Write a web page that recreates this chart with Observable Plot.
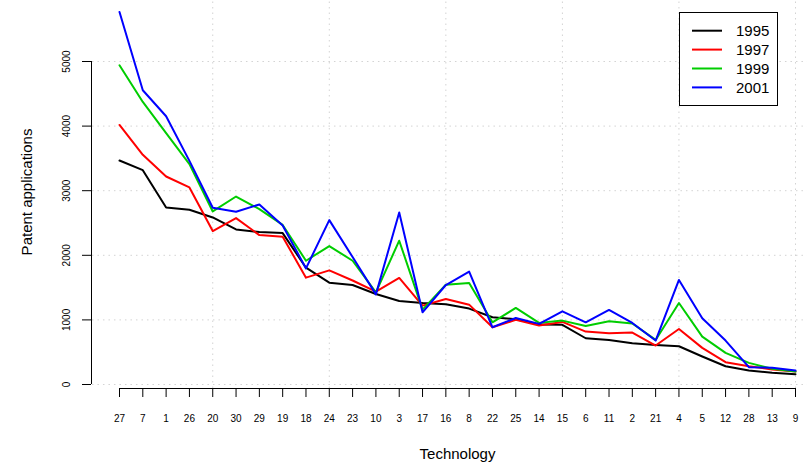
<!DOCTYPE html>
<html>
<head>
<meta charset="utf-8">
<script src="https://cdn.jsdelivr.net/npm/d3@7"></script>
<script src="https://cdn.jsdelivr.net/npm/@observablehq/plot@0.6"></script>
<style>
  html, body { margin: 0; padding: 0; background: #fff; }
  #chart { width: 807px; height: 464px; }
</style>
</head>
<body>
<div id="chart"></div>
<script>
const cats = ["27","7","1","26","20","30","29","19","18","24","23","10","3","17","16","8","22","25","14","15","6","11","2","21","4","5","12","28","13","9"];
const years = ["1995","1997","1999","2001"];
const colors = ["#000000","#FF0000","#00CD00","#0000FF"];
const v1995 = [3467,3318,2740,2705,2586,2400,2360,2344,1808,1576,1540,1401,1293,1262,1241,1175,1041,1010,927,923,716,690,639,613,592,433,283,216,181,159];
const v1997 = [4018,3555,3220,3050,2375,2576,2313,2288,1654,1767,1610,1437,1649,1221,1324,1236,886,1000,912,969,819,793,804,603,860,567,345,283,232,201];
const v1999 = [4941,4374,3890,3411,2679,2910,2715,2470,1916,2143,1916,1427,2226,1159,1546,1572,963,1185,954,989,905,978,945,690,1262,742,490,335,243,201];
const v2001 = [5765,4555,4153,3462,2736,2674,2787,2462,1797,2545,1973,1395,2664,1118,1540,1747,886,1030,938,1133,963,1154,953,680,1618,1025,680,268,258,216];
const yTicks = [0,1000,2000,3000,4000,5000];
const gridX = [4,9,14,19,24,29];

const series = [v1995, v1997, v1999, v2001];
const rows = [];
series.forEach((vals, k) => vals.forEach((v, i) => rows.push({i, cat: cats[i], year: years[k], value: v})));

const font = "'Liberation Sans', Arial, Helvetica, sans-serif";

const chart = Plot.plot({
  width: 807,
  height: 464,
  marginLeft: 119,
  marginRight: 12,
  marginTop: 61,
  marginBottom: 80,
  style: {fontFamily: font, background: "white", color: "black"},
  x: {domain: [0, cats.length - 1]},
  y: {domain: [0, 5000]},
  color: {domain: years, range: colors},
  marks: [
    Plot.ruleY(yTicks, {y: d => d, x1: -1.16, x2: 31, stroke: "#d3d3d3", strokeDasharray: "1.5,4"}),
    Plot.ruleX(gridX, {x: d => d, y1: -62, y2: 6200, stroke: "#d3d3d3", strokeDasharray: "1.5,4"}),
    Plot.line(rows, {x: "i", y: "value", z: "year", stroke: "year", strokeWidth: 2, strokeLinejoin: "round"}),
    Plot.ruleY([0], {x1: 0, x2: cats.length - 1, dy: 4, stroke: "black"}),
    Plot.axisX({ticks: d3.range(cats.length), tickFormat: i => cats[i], tickSize: 9, tickPadding: 17, dy: 4, fontSize: 10, label: null, stroke: "black"}),
    Plot.ruleX([0], {y1: 0, y2: 5000, dx: -28, stroke: "black"}),
    Plot.axisY({ticks: yTicks, tickSize: 9, tickFormat: () => "", dx: -28, label: null, stroke: "black"}),
    Plot.text(yTicks, {y: d => d, text: d => String(d), frameAnchor: "left", dx: -53, rotate: -90, fontSize: 10, lineAnchor: "middle", textAnchor: "middle", fill: "black"}),
    Plot.text(["Technology"], {text: d => d, frameAnchor: "bottom", dy: 69.5, lineAnchor: "middle", fontSize: 15, fill: "black"}),
    Plot.text(["Patent applications"], {text: d => d, frameAnchor: "left", dx: -92, dy: -31, rotate: -90, lineAnchor: "middle", textAnchor: "middle", fontSize: 15, fill: "black"})
  ]
});

document.getElementById("chart").appendChild(chart);

// Legend (top-right box)
const svg = d3.select(chart);
const lg = svg.append("g").attr("font-family", font).attr("font-size", 15).attr("text-anchor", "start");
lg.append("rect").attr("x", 679.5).attr("y", 12.5).attr("width", 98).attr("height", 93)
  .attr("fill", "white").attr("stroke", "black").attr("stroke-width", 1);
years.forEach((yr, k) => {
  const yy = 30.7 + k * 18.9;
  lg.append("line").attr("x1", 692).attr("x2", 722).attr("y1", yy).attr("y2", yy)
    .attr("stroke", colors[k]).attr("stroke-width", 2);
  lg.append("text").attr("x", 736).attr("y", yy).attr("dy", "0.35em").attr("text-anchor", "start").attr("fill", "black").text(yr);
});
</script>
</body>
</html>
